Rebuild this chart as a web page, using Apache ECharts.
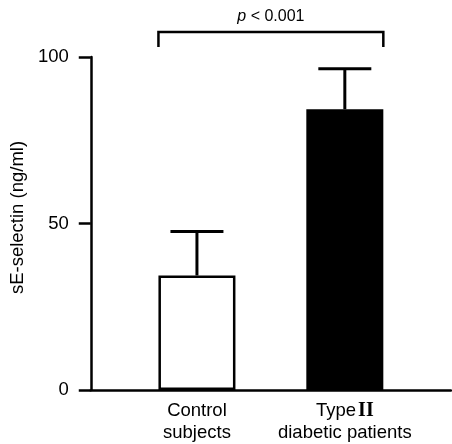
<!DOCTYPE html>
<html>
<head>
<meta charset="utf-8">
<script src="https://cdn.jsdelivr.net/npm/echarts@6/dist/echarts.min.js"></script>
<style>
  html, body { margin: 0; padding: 0; background: #fff; }
  #chart { width: 452px; height: 444px; }
</style>
</head>
<body>
<div id="chart"></div>
<script>
// values
const categories = ['Control\nsubjects', 'Type II\ndiabetic patients'];
const means = [34.4, 84.3];
const sem = [13.2, 12.2];
const barColors = ['#ffffff', '#000000'];
const yTicks = [0, 50, 100];
const pLabel = 'p < 0.001';
const bracketLevel = 107.5;   // height of the significance bracket
const bracketLegEnd = 103;    // where its legs stop

const barWidth = 77;
const ink = '#000';

const chart = echarts.init(document.getElementById('chart'));

const barData = means.map((m, i) => ({
    value: [i, m],
    itemStyle: { color: barColors[i] }
}));
const errData = means.map((m, i) => [i, m, m + sem[i]]);

const option = {
    animation: false,
    textStyle: { fontFamily: 'Liberation Sans, Arial, sans-serif', color: ink },
    grid: { left: 89, right: 1, top: 57, bottom: 53 },
    xAxis: {
        type: 'value',
        min: -0.718,
        max: 1.718,
        z: 5,
        axisLine: { onZero: false, lineStyle: { color: ink, width: 2.5 } },
        axisTick: { show: false },
        splitLine: { show: false },
        axisLabel: {
            customValues: [0, 1],
            formatter: v => {
                const t = categories[Math.round(v)] || '';
                return t.replace('Type II', 'Type{r|II}');
            },
            color: ink,
            fontSize: 18.5,
            lineHeight: 22,
            margin: 10,
            rich: {
                r: { fontFamily: 'Liberation Serif, serif', fontSize: 20, fontWeight: 'bold', color: ink, padding: [0, 0, 0, 2] }
            }
        }
    },
    yAxis: {
        type: 'value',
        min: 0,
        max: 100,
        interval: 50,
        name: 'sE-selectin (ng/ml)',
        nameLocation: 'middle',
        nameRotate: 90,
        nameGap: 47,
        nameTextStyle: { fontSize: 18.5, color: ink, padding: [0, 0, 0, 12] },
        axisLine: { show: true, onZero: false, lineStyle: { color: ink, width: 2.5 } },
        axisTick: { show: true, length: 12, lineStyle: { color: ink, width: 2.5 } },
        splitLine: { show: false },
        axisLabel: {
            color: ink,
            fontSize: 18.5,
            margin: 22,
            formatter: v => (yTicks.includes(v) ? String(v) : '')
        }
    },
    series: [
        {
            type: 'bar',
            data: barData,
            barWidth: barWidth,
            itemStyle: { borderColor: ink, borderWidth: 2.5 },
            z: 2
        },
        {
            type: 'custom',
            data: errData,
            z: 3,
            renderItem: (params, api) => {
                const lo = api.coord([api.value(0), api.value(1)]);
                const hi = api.coord([api.value(0), api.value(2)]);
                const cap = 26.5;
                const style = { stroke: ink, lineWidth: 3 };
                return {
                    type: 'group',
                    children: [
                        { type: 'line', shape: { x1: lo[0], y1: lo[1], x2: hi[0], y2: hi[1] }, style },
                        { type: 'line', shape: { x1: hi[0] - cap, y1: hi[1], x2: hi[0] + cap, y2: hi[1] }, style }
                    ]
                };
            }
        },
        {
            type: 'custom',
            data: [[0, 1, bracketLevel, bracketLegEnd]],
            clip: false,
            z: 3,
            renderItem: (params, api) => {
                const a = api.coord([api.value(0), api.value(2)]);
                const b = api.coord([api.value(1), api.value(2)]);
                const legY = api.coord([api.value(0), api.value(3)])[1];
                const half = barWidth / 2;
                const x1 = a[0] - half, x2 = b[0] + half;
                return {
                    type: 'group',
                    children: [
                        {
                            type: 'polyline',
                            shape: { points: [[x1, legY], [x1, a[1]], [x2, a[1]], [x2, legY]] },
                            style: { stroke: ink, lineWidth: 2.5, fill: null }
                        },
                        {
                            type: 'text',
                            x: (x1 + x2) / 2,
                            y: a[1] - 7,
                            style: {
                                text: '{i|p}{n|' + pLabel.slice(1) + '}',
                                align: 'center',
                                verticalAlign: 'bottom',
                                rich: {
                                    i: { fontStyle: 'italic', fontSize: 16, fontFamily: 'Liberation Sans, Arial, sans-serif', fill: ink },
                                    n: { fontSize: 16, fontFamily: 'Liberation Sans, Arial, sans-serif', fill: ink }
                                }
                            }
                        }
                    ]
                };
            }
        }
    ]
};

chart.setOption(option);
</script>
</body>
</html>
